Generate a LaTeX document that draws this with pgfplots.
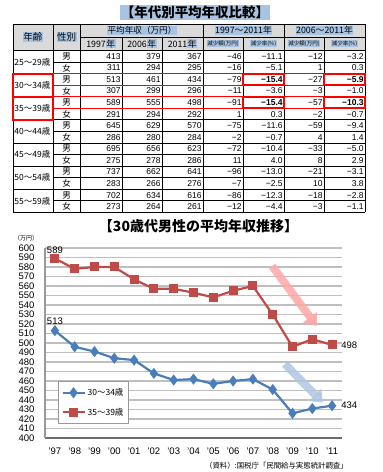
\documentclass[border=0pt]{standalone}
\usepackage{pgfplots}
\pgfplotsset{compat=1.18}
\usepackage{fontspec}
\setmainfont{Liberation Sans}
\newfontfamily\jp{Noto Sans CJK JP}
\usetikzlibrary{arrows.meta}
\definecolor{c1}{HTML}{4A7EBB}
\definecolor{c2}{HTML}{BE4B48}
\definecolor{hl}{HTML}{A9C4E2}
\definecolor{hdr}{HTML}{DADADA}
\newcommand{\hlt}[1]{{\setlength{\fboxsep}{0.5pt}\colorbox{hl}{#1}}}
\begin{document}
\begin{tikzpicture}
% ---------------- table and texts (pixel coordinates, y downward) ----------------
\begin{scope}[x=1pt,y=-1pt,shift={(0pt,472pt)}]
\node[fill=hl,inner sep=1pt,font=\jp\bfseries\fontsize{13.5}{14}\selectfont] at (195,12.5) {【年代別平均年収比較】};
% header fill
\fill[hdr] (13,24) rectangle (365,50.5);
% header texts
\node[font=\jp\fontsize{9.5}{10}\selectfont,inner sep=0pt] at (33,37.3) {\hlt{年齢}};
\node[font=\jp\fontsize{9.5}{10}\selectfont,inner sep=0pt] at (66.5,37.3) {\hlt{性別}};
\node[font=\jp\fontsize{8.6}{9}\selectfont,inner sep=0pt] at (142,30.5) {\hlt{平均年収（万円）}};
\node[font=\jp\fontsize{8.8}{9}\selectfont,inner sep=0pt] at (243.5,30.5) {\hlt{1997〜2011年}};
\node[font=\jp\fontsize{8.8}{9}\selectfont,inner sep=0pt] at (324.5,30.5) {\hlt{2006〜2011年}};
\node[font=\jp\fontsize{8.8}{9}\selectfont,inner sep=0pt] at (101,43.8) {1997\hlt{年}};
\node[font=\jp\fontsize{8.8}{9}\selectfont,inner sep=0pt] at (142,43.8) {2006\hlt{年}};
\node[font=\jp\fontsize{8.8}{9}\selectfont,inner sep=0pt] at (182.5,43.8) {2011\hlt{年}};
\node[font=\jp\fontsize{5.5}{6}\selectfont,inner sep=0pt] at (223,43.8) {\hlt{減少額(万円)}};
\node[font=\jp\fontsize{5.5}{6}\selectfont,inner sep=0pt] at (263.5,43.8) {\hlt{減少率(\%)}};
\node[font=\jp\fontsize{5.5}{6}\selectfont,inner sep=0pt] at (304,43.8) {\hlt{減少額(万円)}};
\node[font=\jp\fontsize{5.5}{6}\selectfont,inner sep=0pt] at (344.5,43.8) {\hlt{減少率(\%)}};
% grid of the table
\begin{scope}[line width=0.9pt,black]
\draw (13,24) -- (365,24);
\draw (80,37) -- (365,37);
\draw (13,50.5) -- (365,50.5);
\foreach \g in {1,...,6} {\draw (13,{50.5+2*\g*11.57}) -- (365,{50.5+2*\g*11.57});}
\draw (13,212.5) -- (365,212.5);
\foreach \g in {0,...,6} {\draw (53,{50.5+(2*\g+1)*11.57}) -- (365,{50.5+(2*\g+1)*11.57});}
\foreach \x in {13,53,80,203,284,365} {\draw (\x,24) -- (\x,212.5);}
\foreach \x in {122,162,243,324} {\draw (\x,37) -- (\x,212.5);}
\end{scope}
% age groups
\foreach \g/\t in {0/25〜29歳,1/30〜34歳,2/35〜39歳,3/40〜44歳,4/45〜49歳,5/50〜54歳,6/55〜59歳}
 {\node[anchor=west,inner sep=0pt,font=\jp\fontsize{8.5}{9}\selectfont] at (14.2,{50.5+(2*\g+1)*11.57}) {\t};}
% rows
\foreach \i/\s/\a/\b/\c/\d/\e/\f/\h in {
0/男/413/379/367/−46/−11.1/−12/−3.2,
1/女/311/294/295/−16/−5.1/1/0.3,
2/男/513/461/434/−79/{\bfseries −15.4}/−27/{\bfseries −5.9},
3/女/307/299/296/−11/−3.6/−3/−1.0,
4/男/589/555/498/−91/{\bfseries −15.4}/−57/{\bfseries −10.3},
5/女/291/294/292/1/0.3/−2/−0.7,
6/男/645/629/570/−75/−11.6/−59/−9.4,
7/女/286/280/284/−2/−0.7/4/1.4,
8/男/695/656/623/−72/−10.4/−33/−5.0,
9/女/275/278/286/11/4.0/8/2.9,
10/男/737/662/641/−96/−13.0/−21/−3.1,
11/女/283/266/276/−7/−2.5/10/3.8,
12/男/702/634/616/−86/−12.3/−18/−2.8,
13/女/273/264/261/−12/−4.4/−3/−1.1}
{
 \pgfmathsetmacro{\yc}{50.5+(\i+0.5)*11.57}
 \node[inner sep=0pt,font=\jp\fontsize{8.5}{9}\selectfont] at (66.5,\yc) {\s};
 \begin{scope}[every node/.style={anchor=east,inner sep=0pt,font=\fontsize{8.5}{9}\selectfont}]
 \node at (120.8,\yc) {\a};
 \node at (160.8,\yc) {\b};
 \node at (201.8,\yc) {\c};
 \node at (241.8,\yc) {\d};
 \node at (282.8,\yc) {\e};
 \node at (322.8,\yc) {\f};
 \node at (363.8,\yc) {\h};
 \end{scope}
}
% red highlights
\begin{scope}[red]
\draw[line width=0.8pt] (53,73.64) -- (365,73.64) (53,85.21) -- (365,85.21);
\draw[line width=0.8pt] (53,96.78) -- (365,96.78) (53,108.35) -- (365,108.35);
\draw[line width=1.8pt] (13,73.64) rectangle (53,96.78);
\draw[line width=1.8pt] (13,96.78) rectangle (53,119.92);
\draw[line width=1.8pt] (243,73.64) rectangle (284,85.21);
\draw[line width=1.8pt] (324,73.64) rectangle (365,85.21);
\draw[line width=1.8pt] (243,96.78) rectangle (284,108.35);
\draw[line width=1.8pt] (324,96.78) rectangle (365,108.35);
\end{scope}
% chart texts
\node[font=\jp\bfseries\fontsize{14}{15}\selectfont] at (198.5,226.2) {【30歳代男性の平均年収推移】};
\node[font=\jp\fontsize{6}{7}\selectfont,inner sep=0pt] at (26,237.8) {（万円）};
\node[anchor=east,font=\jp\fontsize{7.4}{8}\selectfont,inner sep=0pt] at (348,465.5) {（資料）:国税庁「民間給与実態統計調査」};
\end{scope}
% ---------------- line chart ----------------
\begin{axis}[
 at={(45pt,34pt)}, anchor=south west, scale only axis,
 width=297pt, height=190pt,
 xmin=-0.5, xmax=14.5, ymin=400, ymax=600,
 axis lines*=left,
 x axis line style={draw=gray!85!black, line width=1.6pt},
 y axis line style={draw=gray!80, line width=1.2pt},
 xtick={0,...,14},
 xticklabels={'97,'98,'99,'00,'01,'02,'03,'04,'05,'06,'07,'08,'09,'10,'11},
 ytick={400,410,...,600},
 ymajorgrids, grid style={gray!50, line width=1.3pt},
 major tick length=0pt,
 tick label style={font=\fontsize{9.5}{10}\selectfont},
 yticklabel style={xshift=-7pt},
 xticklabel style={yshift=-6pt},
 /pgf/number format/assume math mode=true,
 clip=false,
 legend cell align=left,
 legend style={at={(0.0438,0.3)}, anchor=north west, draw=gray!80, line width=0.8pt,
   fill=white, font=\jp\fontsize{8.5}{9}\selectfont, row sep=7pt,
   inner xsep=3pt, inner ysep=5pt},
 legend image code/.code={\draw[mark repeat=2,mark phase=2,#1] plot coordinates {(0pt,0pt) (11pt,0pt) (22pt,0pt)};},
]
% decorative arrows
\draw[line width=8pt, red!35!white, opacity=0.85, -{Triangle[width=17pt,length=11pt]}] (axis cs:10.97,581) -- (axis cs:13.22,517.9);
\draw[line width=8pt, c1!45!white, opacity=0.85, -{Triangle[width=17pt,length=11pt]}] (axis cs:11.62,477.9) -- (axis cs:13.53,437.2);
\addplot[c1, line width=2.2pt, mark=diamond*, mark size=3.8pt, mark options={solid}] coordinates {
(0,513) (1,496) (2,491) (3,484) (4,482) (5,468) (6,461) (7,462) (8,457) (9,460) (10,462) (11,451) (12,426) (13,431) (14,434)};
\addlegendentry{30〜34歳}
\addplot[c2, line width=2.2pt, mark=square*, mark size=3.4pt, mark options={solid}] coordinates {
(0,589) (1,578) (2,580) (3,580) (4,567) (5,557) (6,557) (7,553) (8,548) (9,555) (10,560) (11,530) (12,496) (13,504) (14,498)};
\addlegendentry{35〜39歳}
\node[anchor=south, inner sep=1pt, yshift=4pt, font=\fontsize{9.5}{10}\selectfont] at (axis cs:0,589) {589};
\node[anchor=south, inner sep=1pt, yshift=5pt, font=\fontsize{9.5}{10}\selectfont] at (axis cs:0,513) {513};
\node[anchor=west, inner sep=1pt, xshift=8pt, font=\fontsize{9.5}{10}\selectfont] at (axis cs:14,498) {498};
\node[anchor=west, inner sep=1pt, xshift=8pt, font=\fontsize{9.5}{10}\selectfont] at (axis cs:14,434) {434};
\end{axis}
\pgfresetboundingbox
\path[use as bounding box] (0pt,0pt) rectangle (383pt,472pt);
\end{tikzpicture}
\end{document}
